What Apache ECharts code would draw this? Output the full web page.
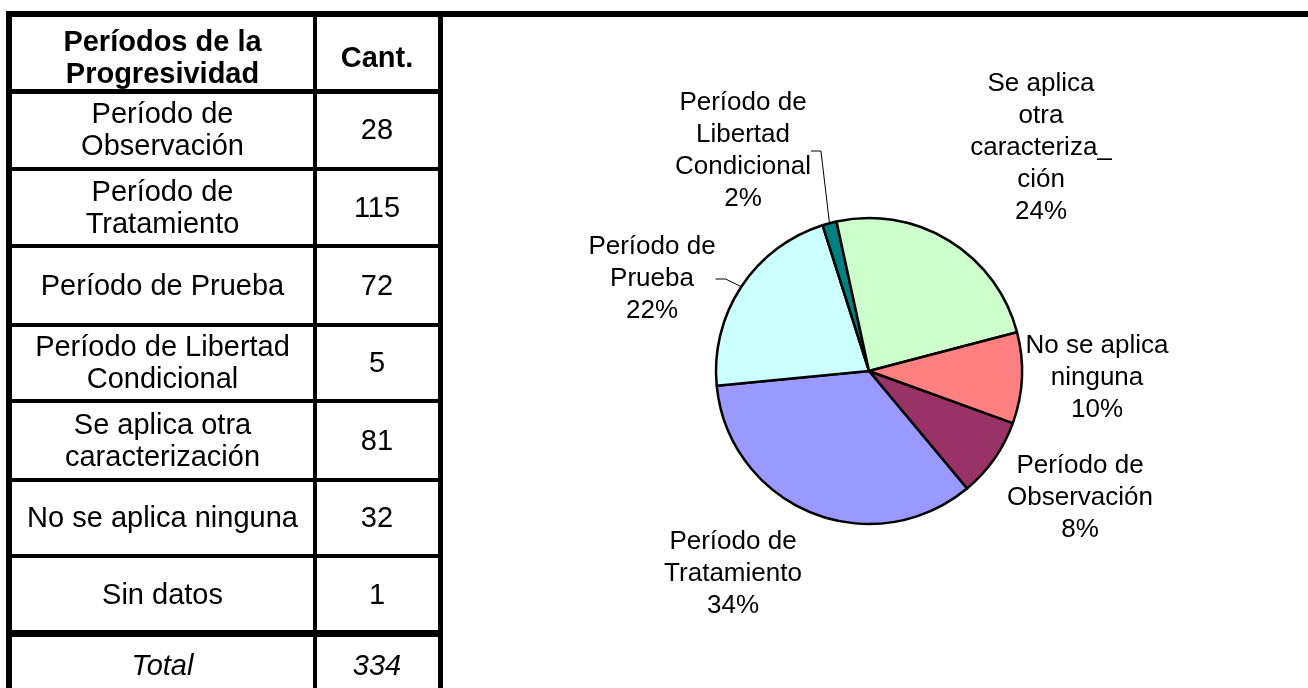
<!DOCTYPE html>
<html>
<head>
<meta charset="utf-8">
<script src="https://cdn.jsdelivr.net/npm/echarts@6/dist/echarts.min.js"></script>
<style>
  html, body { margin: 0; padding: 0; background: #fff; }
  #chart { width: 1308px; height: 688px; }
</style>
</head>
<body>
<div id="chart"></div>
<script>
// ---- data ----
var headerLabels = ['Períodos de la\nProgresividad', 'Cant.'];
var tableCategories = [
  'Período de\nObservación',
  'Período de\nTratamiento',
  'Período de Prueba',
  'Período de Libertad\nCondicional',
  'Se aplica otra\ncaracterización',
  'No se aplica ninguna',
  'Sin datos'
];
var tableValues = [28, 115, 72, 5, 81, 32, 1];
var totalLabel = 'Total';
var totalValue = 334;

var pieNames = [
  'Período de\nObservación',
  'Período de\nTratamiento',
  'Período de\nPrueba',
  'Período de\nLibertad\nCondicional',
  'Se aplica\notra\ncaracteriza_\nción',
  'No se aplica\nninguna'
];
var pieValues = [28, 115, 72, 5, 81, 32];

// ---- styles / layout ----
var pieColors = ['#993366', '#9999FF', '#CCFFFF', '#008080', '#CCFFCC', '#FF8080'];
var labelPos = [[1080, 498], [733, 574], [652, 279], [743, 151], [1041, 148], [1097, 378]];
var showLeader = [false, false, true, true, false, false];
var FONT = '"Liberation Sans", Arial, sans-serif';

// whole-percent labels over all table values (largest remainder, as the source chart does)
function roundedPercents(vals) {
  var sum = vals.reduce(function (a, b) { return a + b; }, 0);
  var raw = vals.map(function (v) { return v / sum * 100; });
  var fl = raw.map(Math.floor);
  var left = 100 - fl.reduce(function (a, b) { return a + b; }, 0);
  var order = raw.map(function (v, i) { return i; })
    .sort(function (a, b) { return (raw[b] - fl[b]) - (raw[a] - fl[a]); });
  for (var k = 0; k < left; k++) fl[order[k]]++;
  return fl;
}
var pct = roundedPercents(tableValues);

// table geometry (pixel layout)
var rowLines = [91.5, 169, 246, 325, 401, 480, 556, 633.5];
var colLeftCenter = 162.5, colRightCenter = 377;

var graphics = [];
function rect(x, y, w, h) {
  graphics.push({ type: 'rect', shape: { x: x, y: y, width: w, height: h }, style: { fill: '#000' }, silent: true });
}
function txt(s, x, y, opts) {
  opts = opts || {};
  graphics.push({
    type: 'text', silent: true,
    style: {
      text: s, x: x, y: y,
      align: 'center', verticalAlign: 'middle',
      textAlign: 'center', textVerticalAlign: 'middle',
      fontSize: 29, lineHeight: 32, fontFamily: FONT,
      fontWeight: opts.bold ? 'bold' : 'normal',
      fontStyle: opts.italic ? 'italic' : 'normal',
      fill: '#000'
    }
  });
}
// borders
rect(6, 11, 1302, 6);       // top border across
rect(6, 11, 6, 677);        // left border
rect(313, 11, 4, 677);      // column divider
rect(438, 11, 5, 677);      // table right border
rect(6, 89, 437, 5);        // header bottom
for (var i = 1; i < rowLines.length - 1; i++) rect(6, rowLines[i] - 2, 437, 4);
rect(6, 630, 437, 7);       // thick line above total

// header
txt(headerLabels[0], colLeftCenter, 59, { bold: true });
txt(headerLabels[1], colRightCenter, 59, { bold: true });
// rows
for (var r = 0; r < tableCategories.length; r++) {
  var cy = (rowLines[r] + rowLines[r + 1]) / 2 + 1;
  txt(tableCategories[r], colLeftCenter, cy);
  txt(String(tableValues[r]), colRightCenter, cy);
}
txt(totalLabel, colLeftCenter, 667, { italic: true });
txt(String(totalValue), colRightCenter, 667, { italic: true });

var pieData = pieValues.map(function (v, i) {
  return {
    name: pieNames[i], value: v,
    itemStyle: { color: pieColors[i] },
    labelLine: { show: showLeader[i] }
  };
});

var chart = echarts.init(document.getElementById('chart'), null, { renderer: 'canvas' });
chart.setOption({
  animation: false,
  backgroundColor: '#fff',
  graphic: graphics,
  series: [{
    type: 'pie',
    center: [869, 371],
    radius: 153,
    startAngle: -19.9,
    clockwise: true,
    avoidLabelOverlap: false,
    emphasis: { disabled: true },
    itemStyle: { borderColor: '#000', borderWidth: 2.5 },
    label: {
      show: true,
      position: 'outside',
      color: '#000',
      fontSize: 26,
      lineHeight: 32,
      fontFamily: FONT,
      align: 'center',
      formatter: function (p) {
        return p.name + '\n' + pct[p.dataIndex] + '%';
      }
    },
    labelLine: { show: false, lineStyle: { color: '#000', width: 1 }, length: 10, length2: 10 },
    labelLayout: function (params) {
      var pos = labelPos[params.dataIndex];
      return { x: pos[0], y: pos[1], align: 'center', verticalAlign: 'middle' };
    },
    data: pieData
  }]
});
</script>
</body>
</html>
